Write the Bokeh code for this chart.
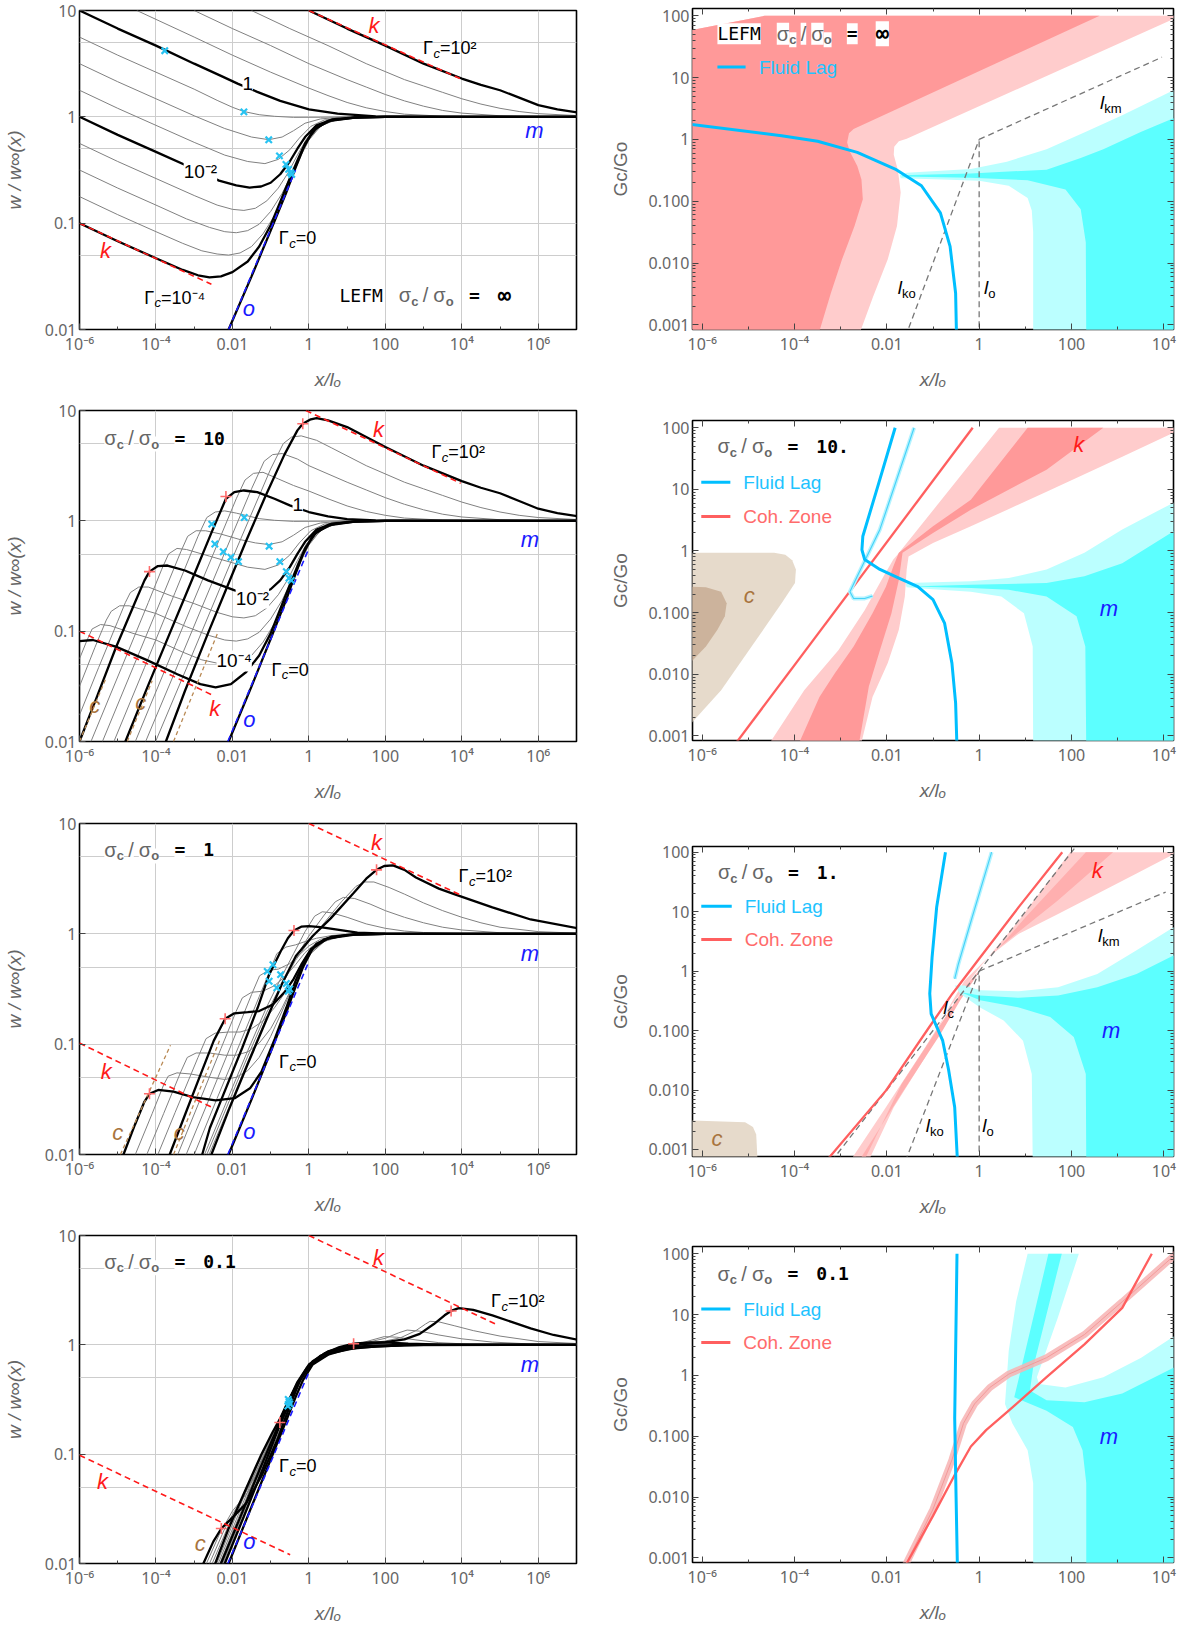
import math
from bokeh.plotting import figure
from bokeh.models import FixedTicker, CustomJSTickFormatter, Label, LogAxis
from bokeh.layouts import column, row
from bokeh.embed import file_html
from bokeh.resources import INLINE

# ======================= DATA (log10 x/lo , log10 value) =======================
# ---- Panel A : LEFM  sigma_c/sigma_o = inf ----
A_G0 = [(-2.1,-2.0),(-1.5,-1.5),(-1.0,-1.07),(-0.6,-0.72),(-0.35,-0.48),(-0.15,-0.3),(0.1,-0.13),(0.5,-0.04),(1.2,-0.008),(2.0,0.0),(7.0,0.0)]
A_Gm40 = [(-6,-1),(-5,-1.17),(-4,-1.33),(-3.3,-1.44),(-2.9,-1.49),(-2.6,-1.51),(-2.3,-1.50),(-2.0,-1.46),(-1.6,-1.36),(-1.3,-1.22),(-1.0,-1.02),(-0.75,-0.8),(-0.5,-0.58),(-0.3,-0.41),(-0.1,-0.25),(0.2,-0.1),(0.6,-0.03),(1.2,-0.007),(2,0),(7,0)]
A_Gm35 = [(-6,-0.75),(-5,-0.92),(-4,-1.08),(-3.3,-1.19),(-2.8,-1.26),(-2.4,-1.29),(-2.1,-1.30),(-1.8,-1.28),(-1.5,-1.22),(-1.2,-1.10),(-0.9,-0.93),(-0.65,-0.74),(-0.4,-0.53),(-0.2,-0.36),(0.0,-0.22),(0.3,-0.09),(0.7,-0.025),(1.3,-0.005),(2,0),(7,0)]
A_Gm30 = [(-6,-0.5),(-5,-0.67),(-4,-0.83),(-3.2,-0.96),(-2.6,-1.04),(-2.2,-1.08),(-1.9,-1.09),(-1.6,-1.07),(-1.3,-1.01),(-1.0,-0.89),(-0.7,-0.72),(-0.45,-0.54),(-0.2,-0.34),(0.05,-0.18),(0.4,-0.06),(0.9,-0.015),(1.5,-0.003),(2,0),(7,0)]
A_Gm25 = [(-6,-0.25),(-5,-0.42),(-4,-0.58),(-3,-0.74),(-2.4,-0.83),(-2.0,-0.87),(-1.7,-0.88),(-1.4,-0.86),(-1.1,-0.79),(-0.8,-0.67),(-0.55,-0.53),(-0.3,-0.36),(-0.05,-0.2),(0.3,-0.08),(0.8,-0.02),(1.5,-0.004),(2,0),(7,0)]
A_Gm20 = [(-6,0),(-5,-0.17),(-4,-0.33),(-3,-0.49),(-2.35,-0.60),(-1.9,-0.645),(-1.55,-0.665),(-1.25,-0.655),(-1.0,-0.62),(-0.75,-0.54),(-0.5,-0.42),(-0.3,-0.30),(-0.1,-0.19),(0.2,-0.08),(0.6,-0.025),(1.2,-0.005),(2,0),(7,0)]
A_Gm15 = [(-6,0.25),(-5,0.08),(-4,-0.08),(-3,-0.24),(-2.2,-0.36),(-1.6,-0.42),(-1.15,-0.44),(-0.8,-0.40),(-0.5,-0.31),(-0.25,-0.2),(0.05,-0.09),(0.4,-0.03),(1.0,-0.005),(2,0),(7,0)]
A_Gm10 = [(-6,0.5),(-5,0.33),(-4,0.17),(-3,0.01),(-2.2,-0.11),(-1.5,-0.19),(-1.05,-0.215),(-0.7,-0.19),(-0.4,-0.13),(-0.1,-0.06),(0.3,-0.02),(0.8,-0.004),(2,0),(7,0)]
A_Gm05 = [(-6,0.75),(-5,0.58),(-4,0.42),(-3,0.26),(-2.4,0.155),(-2.0,0.09),(-1.7,0.05),(-1.3,0.02),(-0.9,0.005),(-0.4,-0.005),(0.3,-0.004),(1,0),(7,0)]
A_Gp00 = [(-6,1),(-5,0.83),(-4,0.67),(-3,0.5),(-2.3,0.385),(-1.85,0.31),(-1.35,0.235),(-0.75,0.15),(0,0.07),(0.75,0.03),(1.75,0.005),(3,0),(7,0)]
A_Gp05 = [(-4.5,1.0),(-3,0.75),(-2,0.58),(-1,0.42),(0,0.27),(0.5,0.2),(1,0.135),(1.5,0.085),(2,0.05),(2.5,0.025),(3.5,0.006),(5,0),(7,0)]
A_Gp10 = [(-3,1.0),(-2,0.83),(-1,0.67),(0,0.5),(1,0.35),(1.5,0.28),(2,0.21),(2.5,0.15),(3,0.1),(3.5,0.06),(4,0.035),(5,0.01),(6,0.002),(7,0)]
A_Gp15 = [(-1.5,1.0),(-0.5,0.83),(0.5,0.67),(1.5,0.5),(2.5,0.35),(3,0.29),(3.5,0.23),(4,0.17),(4.5,0.12),(5,0.08),(5.5,0.05),(6,0.03),(7,0.012)]
A_Gp20 = [(0,1.0),(1,0.83),(2,0.67),(3,0.5),(4,0.36),(4.5,0.3),(5,0.25),(5.5,0.18),(6,0.11),(6.5,0.07),(7.05,0.04)]
A_LAG_X = [(-3.77,0.622),(-1.70,0.047),(-1.05,-0.216),(-0.77,-0.367),(-0.60,-0.448),(-0.53,-0.494),(-0.48,-0.524),(-0.45,-0.542)]
A_K_UP = [(0,1),(3.95,0.36)]
A_K_LO = [(-6,-1),(-2.55,-1.575)]
A_O = [(-2.1,-2),(-0.35,-0.5)]
A_M = [(1.45,0),(4.95,0)]

# ---- Panel B : sigma_c/sigma_o = 10 ----
B_G0 = A_G0
B_Gm40 = [(-6.0,-1.09),(-5.65,-1.08),(-5.05,-1.14),(-4.25,-1.26),(-3.44,-1.39),(-2.84,-1.48),(-2.44,-1.51),(-2.04,-1.48),(-1.64,-1.37),(-1.3,-1.22),(-1.0,-1.02),(-0.75,-0.8),(-0.5,-0.58),(-0.3,-0.41),(-0.1,-0.25),(0.2,-0.1),(0.6,-0.03),(1.2,-0.007),(2,0),(7,0)]
B_Gm35 = [(-6.0,-1.25),(-5.8,-1.08),(-5.67,-0.98),(-5.45,-0.94),(-5.2,-0.95),(-4.6,-1.02),(-4.0,-1.08),(-3.3,-1.19),(-2.8,-1.26),(-2.4,-1.29),(-2.1,-1.30),(-1.8,-1.28),(-1.5,-1.22),(-1.2,-1.10),(-0.9,-0.93),(-0.65,-0.74),(-0.4,-0.53),(-0.2,-0.36),(0.0,-0.22),(0.3,-0.09),(0.7,-0.025),(1.3,-0.005),(2,0),(7,0)]
B_Gm30 = [(-6.0,-1.5),(-5.6,-1.15),(-5.3,-0.9),(-5.17,-0.82),(-4.95,-0.77),(-4.7,-0.77),(-4.0,-0.84),(-3.2,-0.96),(-2.6,-1.04),(-2.2,-1.08),(-1.9,-1.09),(-1.6,-1.07),(-1.3,-1.01),(-1.0,-0.89),(-0.7,-0.72),(-0.45,-0.54),(-0.2,-0.34),(0.05,-0.18),(0.4,-0.06),(0.9,-0.015),(1.5,-0.003),(2,0),(7,0)]
B_Gm25 = [(-6.0,-1.76),(-5.5,-1.33),(-5.0,-0.91),(-4.8,-0.74),(-4.67,-0.65),(-4.45,-0.6),(-4.2,-0.6),(-3.6,-0.68),(-3.0,-0.75),(-2.4,-0.83),(-2.0,-0.87),(-1.7,-0.88),(-1.4,-0.86),(-1.1,-0.79),(-0.8,-0.67),(-0.55,-0.53),(-0.3,-0.36),(-0.05,-0.2),(0.3,-0.08),(0.8,-0.02),(1.5,-0.004),(2,0),(7,0)]
B_Gm20 = [(-6.0,-2.0),(-5.55,-1.6),(-5.05,-1.15),(-4.55,-0.74),(-4.3,-0.54),(-4.17,-0.46),(-3.95,-0.41),(-3.7,-0.405),(-3.24,-0.45),(-2.64,-0.54),(-1.94,-0.63),(-1.55,-0.66),(-1.25,-0.655),(-1.0,-0.62),(-0.75,-0.54),(-0.5,-0.42),(-0.3,-0.30),(-0.1,-0.19),(0.2,-0.08),(0.6,-0.025),(1.2,-0.005),(2,0),(7,0)]
B_Gm15 = [(-5.70,-2),(-4.9,-1.33),(-4.2,-0.74),(-3.85,-0.44),(-3.67,-0.3),(-3.45,-0.25),(-3.2,-0.26),(-2.6,-0.32),(-2.0,-0.38),(-1.6,-0.42),(-1.15,-0.44),(-0.8,-0.40),(-0.5,-0.31),(-0.25,-0.2),(0.05,-0.09),(0.4,-0.03),(1.0,-0.005),(2,0),(7,0)]
B_Gm10 = [(-5.40,-2),(-4.6,-1.33),(-3.8,-0.66),(-3.35,-0.28),(-3.17,-0.14),(-2.95,-0.09),(-2.7,-0.09),(-2.3,-0.12),(-1.8,-0.17),(-1.4,-0.2),(-1.05,-0.215),(-0.7,-0.19),(-0.4,-0.13),(-0.1,-0.06),(0.3,-0.02),(0.8,-0.004),(2,0),(7,0)]
B_Gm05 = [(-5.10,-2),(-4.3,-1.33),(-3.5,-0.65),(-2.9,-0.14),(-2.67,0.03),(-2.45,0.08),(-2.2,0.09),(-1.9,0.07),(-1.6,0.045),(-1.3,0.02),(-0.9,0.005),(-0.4,-0.005),(0.3,-0.004),(1,0),(7,0)]
B_Gp00 = [(-4.80,-2.0),(-4.25,-1.53),(-3.64,-1.02),(-3.04,-0.52),(-2.54,-0.1),(-2.17,0.2),(-1.95,0.26),(-1.7,0.275),(-1.35,0.26),(-0.9,0.2),(-0.5,0.14),(0,0.08),(0.5,0.04),(1,0.015),(1.75,0.003),(3,0),(7,0)]
B_Gp05 = [(-4.54,-2),(-3.5,-1.13),(-2.5,-0.3),(-1.9,0.2),(-1.67,0.37),(-1.45,0.43),(-1.2,0.44),(-0.8,0.38),(-0.4,0.32),(0,0.27),(0.5,0.2),(1,0.135),(1.5,0.085),(2,0.05),(2.5,0.025),(3.5,0.006),(5,0),(7,0)]
B_Gp10 = [(-4.27,-2),(-3.3,-1.2),(-2.3,-0.37),(-1.5,0.29),(-1.17,0.54),(-0.95,0.6),(-0.7,0.61),(-0.3,0.56),(0,0.5),(1,0.35),(1.5,0.28),(2,0.21),(2.5,0.15),(3,0.1),(3.5,0.06),(4,0.035),(5,0.01),(6,0.002),(7,0)]
B_Gp15 = [(-4.01,-2),(-3.0,-1.17),(-2.0,-0.34),(-1.0,0.47),(-0.67,0.7),(-0.45,0.76),(-0.2,0.77),(0.2,0.73),(0.6,0.66),(1.5,0.5),(2.5,0.35),(3,0.29),(3.5,0.23),(4,0.17),(4.5,0.12),(5,0.08),(5.5,0.05),(6,0.03),(7,0.012)]
B_Gp20 = [(-3.74,-2.0),(-3.24,-1.54),(-2.64,-1.02),(-2.14,-0.6),(-1.64,-0.18),(-1.14,0.22),(-0.64,0.6),(-0.3,0.82),(-0.16,0.88),(0.05,0.92),(0.2,0.93),(0.5,0.91),(1,0.85),(2,0.67),(3,0.5),(4,0.36),(4.5,0.3),(5,0.25),(5.5,0.18),(6,0.11),(6.5,0.07),(7.05,0.04)]
B_LAG_X = [(-2.54,-0.03),(-2.46,-0.21),(-2.24,-0.28),(-2.04,-0.33),(-1.84,-0.37),(-1.69,0.03),(-1.04,-0.23),(-0.76,-0.37),(-0.59,-0.46),(-0.52,-0.52),(-0.46,-0.54)]
B_COH_P = [(-4.17,-0.46),(-2.17,0.22),(-0.16,0.88)]
B_K_UP = [(-0.08,1.0),(3.97,0.34)]
B_K_LO = [(-6,-1.0),(-2.49,-1.585)]
B_O = [(-2.12,-2),(0.0,-0.25)]
B_M = [(1.5,0),(7,0)]
B_C1 = [(-6.0,-2.0),(-5.3,-1.42)]
B_C2 = [(-4.75,-2.0),(-4.1,-1.45)]
B_C3 = [(-3.54,-2.0),(-2.39,-1.02)]

# ---- Panel C : sigma_c/sigma_o = 1 ----
C_G0 = A_G0
C_Gm40 = [(-4.85,-2.0),(-4.55,-1.73),(-4.3,-1.52),(-4.17,-1.45),(-3.94,-1.415),(-3.54,-1.43),(-3.04,-1.48),(-2.44,-1.51),(-1.94,-1.49),(-1.54,-1.40),(-1.24,-1.25),(-0.89,-0.95),(-0.59,-0.67),(-0.34,-0.42),(-0.1,-0.23),(0.2,-0.09),(0.6,-0.025),(1.2,-0.005),(2,0),(7,0)]
C_Gm35 = [(-4.54,-2),(-4.1,-1.63),(-3.8,-1.37),(-3.68,-1.29),(-3.45,-1.26),(-3.1,-1.27),(-2.6,-1.3),(-2.2,-1.32),(-1.9,-1.3),(-1.6,-1.24),(-1.3,-1.12),(-1.0,-0.93),(-0.7,-0.7),(-0.45,-0.5),(-0.2,-0.32),(0.05,-0.18),(0.4,-0.07),(0.9,-0.015),(1.5,0),(7,0)]
C_Gm30 = [(-4.24,-2),(-3.8,-1.63),(-3.35,-1.25),(-3.18,-1.12),(-2.95,-1.08),(-2.6,-1.08),(-2.2,-1.1),(-1.9,-1.1),(-1.6,-1.07),(-1.3,-0.99),(-1.0,-0.86),(-0.7,-0.67),(-0.45,-0.49),(-0.2,-0.31),(0.05,-0.17),(0.4,-0.06),(0.9,-0.015),(1.5,0),(7,0)]
C_Gm25 = [(-3.95,-2),(-3.5,-1.62),(-2.9,-1.12),(-2.69,-0.95),(-2.45,-0.9),(-2.1,-0.89),(-1.8,-0.89),(-1.5,-0.86),(-1.2,-0.79),(-0.9,-0.67),(-0.6,-0.52),(-0.35,-0.37),(-0.1,-0.22),(0.2,-0.1),(0.6,-0.03),(1.2,-0.005),(2,0),(7,0)]
C_Gm20 = [(-3.64,-2.0),(-3.24,-1.64),(-2.84,-1.28),(-2.49,-0.97),(-2.19,-0.77),(-1.95,-0.72),(-1.6,-0.71),(-1.3,-0.70),(-0.94,-0.64),(-0.64,-0.53),(-0.4,-0.41),(-0.2,-0.28),(0.05,-0.14),(0.4,-0.05),(1,-0.01),(2,0),(7,0)]
C_Gm15 = [(-3.43,-2),(-2.9,-1.55),(-2.3,-1.04),(-1.9,-0.7),(-1.74,-0.58),(-1.5,-0.53),(-1.2,-0.52),(-0.9,-0.47),(-0.6,-0.38),(-0.35,-0.28),(-0.1,-0.17),(0.2,-0.08),(0.6,-0.025),(1.2,-0.005),(2,0),(7,0)]
C_Gm10 = [(-3.21,-2),(-2.6,-1.49),(-2.0,-0.98),(-1.5,-0.55),(-1.29,-0.38),(-1.05,-0.33),(-0.8,-0.32),(-0.5,-0.27),(-0.25,-0.19),(0.0,-0.11),(0.3,-0.05),(0.7,-0.015),(1.3,0),(7,0)]
C_Gm05 = [(-3.0,-2),(-2.4,-1.49),(-1.8,-0.99),(-1.3,-0.57),(-0.98,-0.3),(-0.84,-0.18),(-0.6,-0.12),(-0.35,-0.1),(-0.1,-0.07),(0.2,-0.04),(0.6,-0.015),(1.2,0),(7,0)]
C_Gp00 = [(-2.79,-2.0),(-2.59,-1.76),(-2.24,-1.46),(-1.74,-1.03),(-1.34,-0.67),(-1.04,-0.37),(-0.74,-0.16),(-0.55,-0.04),(-0.39,0.03),(-0.2,0.065),(0.0,0.07),(0.3,0.06),(0.7,0.04),(1.27,0.01),(2,0.002),(3,0),(7,0)]
C_Gp05 = [(-2.73,-2),(-2.2,-1.56),(-1.6,-1.06),(-1.1,-0.66),(-0.7,-0.38),(-0.4,-0.18),(-0.1,0.02),(0.15,0.16),(0.35,0.2),(0.6,0.19),(1.0,0.15),(1.5,0.09),(2,0.05),(2.5,0.025),(3,0.012),(4,0.003),(7,0)]
C_Gp10 = [(-2.67,-2),(-2.15,-1.57),(-1.6,-1.11),(-1.1,-0.71),(-0.7,-0.45),(-0.35,-0.22),(0.0,-0.02),(0.4,0.17),(0.69,0.29),(0.9,0.33),(1.2,0.32),(1.6,0.27),(2,0.21),(2.5,0.15),(3,0.1),(3.5,0.06),(4,0.035),(5,0.01),(7,0)]
C_Gp15 = [(-2.61,-2),(-2.1,-1.58),(-1.6,-1.16),(-1.1,-0.75),(-0.7,-0.46),(-0.35,-0.24),(0.0,-0.07),(0.4,0.1),(0.85,0.29),(1.23,0.43),(1.45,0.47),(1.7,0.47),(2.1,0.42),(2.5,0.36),(3,0.28),(3.5,0.21),(4,0.15),(4.5,0.1),(5,0.06),(6,0.02),(7,0.006)]
C_Gp20 = [(-2.55,-2.0),(-2.1,-1.6),(-1.6,-1.18),(-1.1,-0.77),(-0.7,-0.45),(-0.34,-0.2),(0.1,-0.02),(0.57,0.14),(1.17,0.37),(1.5,0.5),(1.77,0.58),(1.97,0.615),(2.2,0.62),(2.5,0.58),(2.8,0.51),(3.4,0.41),(3.8,0.36),(4.8,0.24),(5.8,0.13),(7.05,0.05)]
C_LAG_X = [(-1.09,-0.34),(-0.94,-0.28),(-1.04,-0.43),(-0.84,-0.49),(-0.74,-0.37),(-0.59,-0.45),(-0.54,-0.52),(-0.5,-0.5)]
C_COH_P = [(-4.17,-1.45),(-2.19,-0.77),(-0.39,0.03),(1.77,0.58)]
C_K_UP = [(0,1),(3.98,0.35)]
C_K_LO = [(-6,-0.99),(-2.49,-1.58)]
C_O = [(-2.12,-2),(0.0,-0.25)]
C_M = [(1.5,0),(7,0)]
C_C1 = [(-4.93,-2),(-3.62,-1.01)]
C_C2 = [(-3.54,-2),(-2.34,-0.97)]

# ---- Panel D : sigma_c/sigma_o = 0.1 ----
D_G0 = [(-2.1,-2.0),(-1.5,-1.48),(-1.0,-1.05),(-0.6,-0.70),(-0.35,-0.48),(-0.15,-0.32),(0.1,-0.18),(0.5,-0.09),(1,-0.04),(1.77,-0.015),(3,0),(7,0)]
D_Gm40 = [(-2.76,-2.0),(-2.5,-1.8),(-2.29,-1.68),(-2.0,-1.58),(-1.64,-1.45),(-1.24,-1.2),(-0.84,-0.88),(-0.54,-0.6),(-0.24,-0.33),(0.07,-0.17),(0.57,-0.075),(1.27,-0.025),(2.5,-0.003),(7,0)]
D_Gm35 = [(-2.68,-2.0),(-2.35,-1.74),(-2.0,-1.52),(-1.6,-1.35),(-1.2,-1.12),(-0.84,-0.85),(-0.54,-0.58),(-0.24,-0.33),(0.07,-0.17),(0.57,-0.075),(1.27,-0.025),(2.5,-0.003),(7,0)]
D_Gm30 = [(-2.6,-2.0),(-2.2,-1.68),(-1.8,-1.43),(-1.4,-1.2),(-1.05,-0.97),(-0.75,-0.74),(-0.45,-0.5),(-0.2,-0.32),(0.1,-0.17),(0.57,-0.07),(1.27,-0.02),(2.5,0),(7,0)]
D_Gm25 = [(-2.53,-2.0),(-2.1,-1.65),(-1.7,-1.38),(-1.3,-1.1),(-0.95,-0.85),(-0.65,-0.63),(-0.4,-0.44),(-0.15,-0.28),(0.15,-0.15),(0.6,-0.065),(1.3,-0.02),(2.5,0),(7,0)]
D_Gm20 = [(-2.45,-2.0),(-2.1,-1.68),(-1.7,-1.36),(-1.24,-1.0),(-0.95,-0.8),(-0.76,-0.68),(-0.55,-0.52),(-0.3,-0.35),(-0.05,-0.21),(0.3,-0.1),(0.8,-0.04),(1.5,-0.01),(2.5,0),(7,0)]
D_Gm15 = [(-2.41,-2.0),(-1.95,-1.6),(-1.5,-1.22),(-1.1,-0.92),(-0.8,-0.7),(-0.5,-0.48),(-0.25,-0.32),(0.05,-0.18),(0.4,-0.09),(0.9,-0.03),(1.6,-0.008),(2.5,0),(7,0)]
D_Gm10 = [(-2.37,-2.0),(-1.9,-1.6),(-1.45,-1.21),(-1.05,-0.9),(-0.75,-0.67),(-0.45,-0.45),(-0.2,-0.3),(0.1,-0.16),(0.5,-0.07),(1.0,-0.02),(1.6,0.0),(2.2,0.004),(3,0),(7,0)]
D_Gm05 = [(-2.33,-2.0),(-1.85,-1.59),(-1.4,-1.2),(-1.0,-0.87),(-0.7,-0.64),(-0.4,-0.42),(-0.15,-0.27),(0.15,-0.14),(0.55,-0.06),(1.0,-0.01),(1.5,0.008),(2.0,0.01),(2.6,0.004),(3.5,0),(7,0)]
D_Gp00 = [(-2.3,-2.0),(-1.8,-1.58),(-1.3,-1.15),(-0.9,-0.82),(-0.6,-0.57),(-0.3,-0.34),(0.0,-0.18),(0.4,-0.08),(0.8,-0.02),(1.17,0.01),(1.6,0.022),(2.1,0.02),(2.6,0.01),(3.5,0.002),(7,0)]
D_Gp05 = [(-2.27,-2.0),(-1.8,-1.59),(-1.3,-1.15),(-0.9,-0.83),(-0.6,-0.59),(-0.3,-0.37),(0.0,-0.21),(0.4,-0.09),(0.9,-0.02),(1.4,0.02),(1.97,0.075),(2.3,0.07),(2.8,0.045),(3.4,0.02),(4.2,0.006),(5.5,0),(7,0)]
D_Gp10 = [(-2.25,-2.0),(-1.75,-1.57),(-1.25,-1.13),(-0.85,-0.8),(-0.55,-0.56),(-0.25,-0.34),(0.05,-0.19),(0.45,-0.08),(0.95,-0.02),(1.5,0.02),(2.0,0.06),(2.35,0.11),(2.57,0.135),(2.9,0.125),(3.4,0.09),(4.0,0.055),(4.8,0.025),(5.8,0.008),(7,0.002)]
D_Gp15 = [(-2.22,-2.0),(-1.72,-1.57),(-1.22,-1.13),(-0.82,-0.79),(-0.52,-0.55),(-0.22,-0.33),(0.08,-0.18),(0.48,-0.075),(1.0,-0.015),(1.5,0.015),(2.0,0.035),(2.4,0.065),(2.8,0.13),(3.05,0.19),(3.17,0.215),(3.4,0.21),(3.8,0.175),(4.3,0.13),(5,0.08),(6,0.03),(7,0.012)]
D_Gp20 = [(-2.2,-2.0),(-1.7,-1.57),(-1.2,-1.13),(-0.8,-0.77),(-0.5,-0.52),(-0.2,-0.3),(0.1,-0.15),(0.5,-0.06),(1.0,-0.015),(1.5,0.01),(2.0,0.025),(2.5,0.05),(2.9,0.1),(3.27,0.19),(3.55,0.27),(3.72,0.31),(3.92,0.335),(4.3,0.32),(4.8,0.27),(5.3,0.21),(5.8,0.15),(6.4,0.09),(7.05,0.045)]
D_LAG_X = [(-0.55,-0.56),(-0.52,-0.52),(-0.5,-0.54),(-0.54,-0.5)]
D_COH_P = [(-2.29,-1.68),(-0.76,-0.71),(1.17,0.01),(3.72,0.31)]
D_K_UP = [(0,1),(4.88,0.19)]
D_K_LO = [(-6,-1.01),(-0.49,-1.92)]
D_O = [(-2.12,-2),(0.0,-0.25)]
D_M = [(1.5,0),(7,0)]

# ======================= right panels: regions (log10 x/lo, log10 Gc/Go) =======================
RA_PINK_PALE = [(-6.3,-3.2),(-2.62,-3.2),(-2.30,-2.55),(-1.98,-1.94),(-1.78,-1.40),(-1.70,-0.86),(-1.76,-0.50),(-1.85,-0.25),(-1.84,-0.12),(-1.74,-0.03),(-1.57,0.01),(4.3,1.98),(4.3,2.0),(-4.65,2.0),(-6.3,1.76)]
RA_PINK_DARK = [(-6.3,-3.2),(-3.5,-3.2),(-3.21,-2.48),(-2.97,-1.94),(-2.70,-1.40),(-2.52,-0.97),(-2.55,-0.65),(-2.64,-0.43),(-2.80,-0.20),(-2.86,-0.05),(-2.82,0.10),(-2.72,0.17),(2.61,2.0),(-4.65,2.0),(-6.3,1.76)]
RA_CYAN_PALE = [(1.17,-3.2),(1.17,-1.5),(1.14,-1.15),(1.05,-0.95),(0.64,-0.75),(0.0,-0.67),(-0.8,-0.65),(-1.70,-0.63),(-1.72,-0.58),(-1.57,-0.54),(-0.18,-0.48),(0.6,-0.36),(1.46,-0.16),(2.3,0.12),(3.10,0.39),(4.3,0.83),(4.3,-3.2)]
RA_CYAN_BRIGHT = [(2.32,-3.2),(2.31,-1.67),(2.20,-1.13),(1.87,-0.81),(1.05,-0.66),(-0.18,-0.62),(-1.66,-0.60),(-1.68,-0.58),(-0.18,-0.55),(1.46,-0.49),(2.2,-0.3),(2.69,-0.16),(3.5,0.12),(4.3,0.37),(4.3,-3.2)]
RA_LAG = [(-6.3,0.25),(-4.28,0.06),(-3.5,-0.03),(-2.64,-0.21),(-1.82,-0.48),(-1.25,-0.75),(-0.84,-1.19),(-0.63,-1.73),(-0.51,-2.49),(-0.49,-3.2)]
RA_LKO = [(-1.6,-3.2),(0,0)]
RA_LO = [(0,-3.2),(0,0)]
RA_LKM = [(0,0),(3.96,1.33)]

RB_TAN = [(-6.3,-0.03),(-4.44,-0.03),(-4.2,-0.06),(-4.05,-0.15),(-3.97,-0.30),(-3.99,-0.52),(-4.28,-0.85),(-4.93,-1.55),(-5.59,-2.26),(-6.3,-2.85)]
RB_TAN_DARK = [(-6.3,-0.58),(-5.92,-0.59),(-5.59,-0.66),(-5.47,-0.85),(-5.51,-1.06),(-5.67,-1.28),(-5.92,-1.55),(-6.3,-1.85)]
RB_PINK_PALE = [(-4.61,-3.2),(-3.79,-2.26),(-3.05,-1.61),(-2.48,-0.96),(-2.07,-0.41),(-1.86,-0.14),(-1.78,-0.07),(0.43,2.0),(4.3,2.0),(4.3,1.95),(3.10,1.53),(1.46,0.96),(-0.18,0.40),(-1.0,0.13),(-1.53,-0.09),(-1.57,-0.30),(-1.61,-0.74),(-1.74,-1.28),(-1.98,-1.82),(-2.31,-2.37),(-2.58,-3.2)]
RB_PINK_DARK = [(-3.95,-3.2),(-3.46,-2.37),(-3.13,-1.99),(-2.72,-1.55),(-2.31,-1.01),(-2.02,-0.58),(-1.86,-0.25),(-1.74,-0.03),(-1.0,0.40),(-0.18,0.83),(1.05,2.0),(2.69,2.0),(1.46,1.32),(-0.18,0.67),(-1.0,0.29),(-1.66,-0.03),(-1.74,-0.47),(-1.90,-1.01),(-2.15,-1.61),(-2.39,-2.20),(-2.62,-3.2)]
RB_COH = [(-5.35,-3.2),(-0.14,2.0)]
RB_LAG = [(-1.82,2.0),(-2.18,1.09),(-2.52,0.24),(-2.54,0.02),(-2.48,-0.14),(-2.15,-0.30),(-1.74,-0.44),(-1.33,-0.58),(-1.0,-0.79),(-0.75,-1.17),(-0.59,-1.82),(-0.51,-2.47),(-0.48,-3.2)]
RB_LAG_THIN = [(-1.41,2.0),(-2.15,0.35),(-2.64,-0.41),(-2.80,-0.66),(-2.72,-0.77),(-2.48,-0.77),(-2.31,-0.73)]
RB_CYAN_PALE = [(1.17,-3.2),(1.16,-1.55),(0.97,-1.01),(0.48,-0.74),(-0.18,-0.66),(-1.0,-0.62),(-1.57,-0.59),(-1.59,-0.55),(-1.57,-0.52),(-0.18,-0.49),(0.64,-0.44),(1.46,-0.30),(2.28,-0.03),(3.10,0.35),(4.3,0.82),(4.3,-3.2)]
RB_CYAN_BRIGHT = [(2.32,-3.2),(2.30,-1.55),(2.11,-1.06),(1.46,-0.74),(0.64,-0.63),(-0.18,-0.60),(-1.49,-0.575),(-0.18,-0.55),(1.46,-0.52),(2.28,-0.41),(3.10,-0.20),(4.3,0.36),(4.3,-3.2)]

RC_TAN = [(-6.3,-2.51),(-5.07,-2.54),(-4.90,-2.62),(-4.83,-2.75),(-4.80,-3.2),(-6.3,-3.2)]
RC_PINK_PALE = [(-2.80,-3.2),(-2.02,-2.29),(-1.17,-1.28),(-0.58,-0.55),(0.02,0.07),(0.86,0.85),(1.97,2.0),(4.3,2.0),(3.41,1.64),(2.56,1.30),(1.71,0.96),(0.86,0.63),(0.19,0.23),(-0.32,-0.16),(-0.66,-0.61),(-1.17,-1.45),(-1.85,-2.29),(-2.4,-3.2)]
RC_PINK_DARK = [(-2.61,-3.2),(-1.68,-2.06),(-0.83,-1.05),(-0.41,-0.49),(0.1,0.1),(1.0,0.9),(2.31,2.0),(2.90,2.0),(1.71,1.19),(0.44,0.40),(-0.32,-0.27),(-0.83,-0.89),(-1.68,-1.90),(-2.5,-3.2)]
RC_COH = [(-3.32,-3.2),(-2.02,-2.01),(-1.08,-0.94),(-0.58,-0.38),(0.02,0.23),(0.86,1.08),(1.80,2.0)]
RC_LC = [(-3.2,-3.2),(2.2,2.2)]
RC_LKO = [(-1.6,-3.2),(0,0)]
RC_LO = [(0,-3.2),(0,0)]
RC_LKM = [(0,0),(4.04,1.33)]
RC_LAG = [(-0.73,2.0),(-0.92,1.08),(-1.02,0.23),(-1.07,-0.38),(-1.04,-0.72),(-0.79,-1.17),(-0.66,-1.67),(-0.53,-2.29),(-0.47,-3.2)]
RC_LAG_THIN = [(0.27,2.0),(-0.15,0.91),(-0.45,0.12),(-0.53,-0.13)]
RC_CYAN_PALE = [(1.16,-3.2),(1.14,-1.73),(0.95,-1.17),(0.53,-0.83),(0.02,-0.61),(-0.41,-0.38),(-0.53,-0.24),(-0.32,-0.24),(0.02,-0.32),(0.86,-0.34),(1.71,-0.27),(2.56,-0.05),(3.41,0.35),(4.3,0.78),(4.3,-3.2)]
RC_CYAN_BRIGHT = [(2.32,-3.2),(2.31,-1.73),(2.05,-1.11),(1.54,-0.77),(0.86,-0.61),(0.02,-0.49),(-0.41,-0.35),(0.02,-0.41),(0.86,-0.45),(1.71,-0.41),(2.56,-0.27),(3.41,-0.05),(4.3,0.3),(4.3,-3.2)]

RD_LAG = [(-0.48,2.0),(-0.53,-0.7),(-0.50,-2.0),(-0.47,-3.2)]
RD_COH = [(-1.65,-3.2),(-1.0,-2.31),(-0.51,-1.61),(-0.18,-1.17),(0.15,-0.90),(0.64,-0.58),(1.46,-0.03),(2.28,0.51),(3.10,1.11),(3.74,2.0)]
RD_BAND = [(-1.65,-3.2),(-1.0,-2.2),(-0.59,-1.39),(-0.34,-0.79),(-0.10,-0.47),(0.23,-0.20),(0.64,0.02),(1.46,0.29),(2.28,0.67),(3.10,1.21),(4.3,2.02)]
RD_CYAN_PALE = [(1.17,-3.2),(1.17,-1.77),(1.05,-1.23),(0.72,-0.79),(0.56,-0.47),(0.64,0.40),(0.80,1.21),(1.05,2.0),(2.16,2.0),(1.70,0.94),(1.25,-0.03),(1.30,-0.14),(1.87,-0.20),(2.69,-0.03),(3.51,0.29),(4.3,0.68),(4.3,-3.2)]
RD_CYAN_BRIGHT = [(2.32,-3.2),(2.32,-1.77),(2.24,-1.23),(2.03,-0.85),(1.46,-0.58),(0.76,-0.36),(0.97,0.3),(1.50,2.0),(1.79,2.0),(1.17,0.13),(1.10,-0.25),(1.46,-0.41),(2.28,-0.44),(3.10,-0.30),(4.3,0.16),(4.3,-3.2)]

X_TICKS_L = [-6, -4, -2, 0, 2, 4, 6]
X_TICK_LABELS_L = ["10⁻⁶", "10⁻⁴", "0.01", "1", "100", "10⁴", "10⁶"]
Y_TICKS_L = [-2, -1, 0, 1]
Y_TICK_LABELS_L = ["0.01", "0.1", "1", "10"]
X_TICKS_R = [-6, -4, -2, 0, 2, 4]
X_TICK_LABELS_R = ["10⁻⁶", "10⁻⁴", "0.01", "1", "100", "10⁴"]
Y_TICKS_R = [-3, -2, -1, 0, 1, 2]
Y_TICK_LABELS_R = ["0.001", "0.010", "0.100", "1", "10", "100"]
GRID_Y_L = [0.05, 0.1, 0.5, 1, 5]

# ======================= helpers =======================
SANS = "Liberation Sans"
TICKF = "Noto Sans"
MONO = "DejaVu Sans Mono"
GRAY = "#666666"
BLACK = "black"
RED = "#FF1A1A"
BLUE = "#1A1AFF"
BROWN = "#A8743E"
LAGC = "#00BFFF"
COHC = "#FF5F5F"

def xy(pts):
    return [10 ** a for a, b in pts], [10 ** b for a, b in pts]

CW = {" ": 0.278, "/": 0.278, ".": 0.278, "l": 0.222, "i": 0.222, "=": 0.584, "Γ": 0.58,
      "σ": 0.62, "∞": 0.75, "(": 0.333, ")": 0.333, "c": 0.5, "k": 0.5, "m": 0.833,
      "w": 0.722, "x": 0.5, "G": 0.778, "L": 0.556, "F": 0.611, "E": 0.667, "M": 0.833}
SUP = "⁰¹²³⁴⁵⁶⁷⁸⁹⁻"

def tw(t, size, font):
    if font == MONO:
        return len(t) * 0.602 * size
    return sum((0.40 if ch in SUP else CW.get(ch, 0.556)) for ch in t) * size

def piece_w(pc):
    if isinstance(pc, (int, float)):
        return pc
    t, s, c, st, f, dy = pc
    return tw(t, s, f)

def rich(p, lx, ly, pieces, bg=None, center=False):
    total = sum(piece_w(pc) for pc in pieces)
    off = -total / 2 if center else 0.0
    for pc in pieces:
        if isinstance(pc, (int, float)):
            off += pc
            continue
        t, s, c, st, f, dy = pc
        lab = Label(x=10 ** lx, y=10 ** ly, x_offset=off, y_offset=dy, text=t,
                    text_font=f, text_font_size=f"{s}px", text_color=c,
                    text_font_style=st, text_baseline="middle", text_align="left")
        if bg:
            lab.background_fill_color = bg
        p.add_layout(lab)
        off += tw(t, s, f)

def txt(p, lx, ly, t, size=18, color=BLACK, style="normal", font=SANS, bg=None):
    rich(p, lx, ly, [(t, size, color, style, font, 0)], bg=bg, center=True)

def gamma(p, lx, ly, rest, size=18, bg=None):
    rich(p, lx, ly, [("Γ", size, BLACK, "normal", SANS, 0),
                     ("c", 13, BLACK, "italic", SANS, -5),
                     ("=" + rest, size, BLACK, "normal", SANS, 0)], bg=bg, center=True)

def lsub(p, lx, ly, sub):
    rich(p, lx, ly, [("l", 19, BLACK, "italic", SANS, 0),
                     (sub, 13, BLACK, "normal", SANS, -6)], center=True)

def sigma_title(p, lx, ly, value, prefix=None, bg="white"):
    pcs = []
    if prefix:
        pcs += [(prefix, 18, BLACK, "normal", MONO, 0), 16]
    pcs += [("σ", 20, GRAY, "normal", SANS, 0), ("c", 13, GRAY, "bold", SANS, -6), 5,
            ("/", 20, GRAY, "normal", SANS, 0), 5,
            ("σ", 20, GRAY, "normal", SANS, 0), ("o", 13, GRAY, "bold", SANS, -6), 16,
            ("=", 18, BLACK, "bold", MONO, 0), 18,
            (value, 18 if value != "∞" else 22, BLACK, "bold", MONO, 0)]
    rich(p, lx, ly, pcs, bg=bg)

def fmt(ticks, labels):
    js = "{" + ",".join('"%d":"%s"' % (k, v) for k, v in zip(ticks, labels)) + "}"
    return CustomJSTickFormatter(code="const m = " + js +
        "; const e = Math.round(Math.log10(tick)); const s = m[String(e)]; return (s === undefined) ? '' : s;")

def style_axes(p):
    for ax in (p.xaxis[0], p.yaxis[0]):
        ax.axis_line_color = None
        ax.major_tick_in = 6
        ax.major_tick_out = 0
        ax.minor_tick_in = 3
        ax.minor_tick_out = 0
        ax.major_tick_line_color = "#444444"
        ax.minor_tick_line_color = "#444444"
        ax.major_label_text_font = TICKF
        ax.major_label_text_font_size = "16px"
        ax.major_label_text_color = GRAY
        ax.major_label_standoff = 3
        ax.axis_label_text_font = SANS
        ax.axis_label_text_font_size = "19px"
        ax.axis_label_text_color = GRAY
    p.xaxis[0].axis_label = "x/lₒ"
    p.xaxis[0].axis_label_text_font_style = "italic"
    p.xaxis[0].axis_label_standoff = 11
    p.outline_line_color = "black"
    p.outline_line_width = 1.6
    p.outline_line_alpha = 1.0

def mirror_axis(ticks, minor):
    return LogAxis(ticker=FixedTicker(ticks=ticks, minor_ticks=minor),
                   formatter=CustomJSTickFormatter(code="return '';"),
                   axis_line_color=None, major_tick_in=6, major_tick_out=0,
                   minor_tick_in=3, minor_tick_out=0,
                   major_tick_line_color="#444444", minor_tick_line_color="#444444",
                   major_label_text_font_size="0px", major_label_standoff=0)

LW, LFW = 78, 497
RW, RFW = 96, 481

def make_left(bt, fh, bb):
    p = figure(x_axis_type="log", y_axis_type="log", x_range=(1e-6, 1e7), y_range=(0.01, 10),
               frame_width=LFW, frame_height=fh, min_border_left=LW, min_border_right=20,
               min_border_top=bt, min_border_bottom=bb, output_backend="svg",
               toolbar_location=None, background_fill_color="white", border_fill_color="white")
    p.xaxis.ticker = FixedTicker(ticks=[10 ** e for e in X_TICKS_L],
                                 minor_ticks=[10 ** e for e in [-5, -3, -1, 1, 3, 5]])
    p.yaxis.ticker = FixedTicker(ticks=[10 ** e for e in Y_TICKS_L], minor_ticks=[])
    p.xaxis.formatter = fmt(X_TICKS_L, X_TICK_LABELS_L)
    p.yaxis.formatter = fmt(Y_TICKS_L, Y_TICK_LABELS_L)
    p.xgrid.ticker = FixedTicker(ticks=[10 ** e for e in [-4, -2, 0, 2, 4, 6]])
    p.ygrid.ticker = FixedTicker(ticks=GRID_Y_L)
    p.grid.grid_line_color = "#cdcdcd"
    p.grid.grid_line_width = 1
    style_axes(p)
    p.yaxis[0].axis_label = "w / w∞(x)"
    p.yaxis[0].axis_label_text_font_style = "italic"
    p.yaxis[0].axis_label_standoff = 17
    return p

def make_right(bt, fh, bb, yr):
    p = figure(x_axis_type="log", y_axis_type="log", x_range=(10 ** -6.21, 10 ** 4.21),
               y_range=(10 ** yr[0], 10 ** yr[1]),
               frame_width=RFW, frame_height=fh, min_border_left=RW, min_border_right=4,
               min_border_top=bt, min_border_bottom=bb, output_backend="svg",
               toolbar_location=None, background_fill_color="white", border_fill_color="white")
    xt = [10 ** e for e in X_TICKS_R]
    xm = [10 ** e for e in [-5, -3, -1, 1, 3]]
    yt = [10 ** e for e in Y_TICKS_R]
    ym = [m * 10 ** e for e in range(-3, 2) for m in range(2, 10)]
    p.xaxis.ticker = FixedTicker(ticks=xt, minor_ticks=xm)
    p.yaxis.ticker = FixedTicker(ticks=yt, minor_ticks=ym)
    p.xaxis.formatter = fmt(X_TICKS_R, X_TICK_LABELS_R)
    p.yaxis.formatter = fmt(Y_TICKS_R, Y_TICK_LABELS_R)
    p.grid.visible = False
    style_axes(p)
    p.yaxis[0].axis_label = "Gc/Go"
    p.yaxis[0].axis_label_text_font_style = "normal"
    p.yaxis[0].axis_label_standoff = 15
    p.add_layout(mirror_axis(xt, xm), "above")
    p.add_layout(mirror_axis(yt, ym), "right")
    return p

def draw_left(p, thin, thick, klines, oline, mline, clines, lagx, cohp):
    p.line(*xy(mline), line_color=BLUE, line_width=1.6, line_dash="6 4")
    for c in thin:
        p.line(*xy(c), line_color="#808080", line_width=1.0)
    for c in thick:
        p.line(*xy(c), line_color="black", line_width=2.3)
    for c in clines:
        p.line(*xy(c), line_color="#B98A55", line_width=1.3, line_dash="4 3")
    for c in klines:
        p.line(*xy(c), line_color=RED, line_width=1.6, line_dash="6 4")
    p.line(*xy(oline), line_color=BLUE, line_width=1.6, line_dash="6 4")
    if lagx:
        p.scatter(*xy(lagx), marker="x", size=9, line_color="#27C3F2", line_width=2.2)
    if cohp:
        p.scatter(*xy(cohp), marker="cross", size=11, line_color="#FF6B6B", line_width=1.6)

def patch(p, pts, color):
    p.patch(*xy(pts), fill_color=color, line_color=None)

def dashed(p, pts):
    p.line(*xy(pts), line_color="#777777", line_width=1.3, line_dash="6 4")

def legend(p, x0, x1, xt, yl, yc=None):
    p.line(*xy([(x0, yl), (x1, yl)]), line_color=LAGC, line_width=3)
    rich(p, xt, yl, [("Fluid Lag", 19, "#1EC3FF", "normal", SANS, 0)])
    if yc is not None:
        p.line(*xy([(x0, yc), (x1, yc)]), line_color=COHC, line_width=3)
        rich(p, xt, yc, [("Coh. Zone", 19, "#FF6B6B", "normal", SANS, 0)])

PINK_DARK = "#FF9999"
PINK_PALE = "#FFCCCC"
CYAN_PALE = "#BBFFFF"
CYAN_BRIGHT = "#5CFFFF"
TAN_PALE = "#E6DACB"
TAN_DARK = "#CCB39C"

YR_STD = (-3.076, 2.118)

# ======================= Left column =======================
A = make_left(10, 319, 71)
draw_left(A, [A_Gm35, A_Gm30, A_Gm25, A_Gm15, A_Gm10, A_Gm05, A_Gp05, A_Gp10, A_Gp15],
          [A_Gm40, A_Gm20, A_Gp00, A_Gp20, A_G0], [A_K_UP, A_K_LO], A_O, A_M, [], A_LAG_X, None)
txt(A, 1.7, 0.86, "k", 22, RED, "italic")
gamma(A, 3.7, 0.646, "10²")
txt(A, -1.6, 0.31, "1", 19, bg="white")
txt(A, 5.9, -0.125, "m", 22, BLUE, "italic")
txt(A, -2.8, -0.518, "10⁻²", 19, bg="white")
gamma(A, -0.3, -1.14, "0")
txt(A, -5.32, -1.26, "k", 22, RED, "italic")
gamma(A, -3.5, -1.70, "10⁻⁴")
txt(A, -1.57, -1.80, "o", 22, BLUE, "italic")
sigma_title(A, 0.8, -1.68, "∞", prefix="LEFM", bg=None)

B = make_left(10, 331, 72)
draw_left(B, [B_Gm35, B_Gm30, B_Gm25, B_Gm15, B_Gm10, B_Gm05, B_Gp05, B_Gp10, B_Gp15],
          [B_Gm40, B_Gm20, B_Gp00, B_Gp20, B_G0], [B_K_UP, B_K_LO], B_O, B_M,
          [B_C1, B_C2, B_C3], B_LAG_X, B_COH_P)
sigma_title(B, -5.35, 0.75, "10")
txt(B, 1.82, 0.83, "k", 22, RED, "italic")
txt(B, -2.46, -1.70, "k", 22, RED, "italic")
gamma(B, 3.92, 0.62, "10²")
txt(B, -0.29, 0.15, "1", 19, bg="white")
txt(B, -1.44, -0.70, "10⁻²", 19, bg="white")
txt(B, -1.94, -1.27, "10⁻⁴", 19, bg="white")
gamma(B, -0.49, -1.35, "0")
txt(B, 5.78, -0.17, "m", 22, BLUE, "italic")
txt(B, -5.6, -1.67, "c", 22, BROWN, "italic")
txt(B, -4.4, -1.65, "c", 22, BROWN, "italic")
txt(B, -1.56, -1.80, "o", 22, BLUE, "italic")

C = make_left(10, 331, 71)
draw_left(C, [C_Gm35, C_Gm30, C_Gm25, C_Gm15, C_Gm10, C_Gm05, C_Gp05, C_Gp10, C_Gp15],
          [C_Gm40, C_Gm20, C_Gp00, C_Gp20, C_G0], [C_K_UP, C_K_LO], C_O, C_M,
          [C_C1, C_C2], C_LAG_X, C_COH_P)
sigma_title(C, -5.35, 0.76, "1")
txt(C, 1.77, 0.83, "k", 22, RED, "italic")
txt(C, -5.30, -1.25, "k", 22, RED, "italic")
gamma(C, 4.63, 0.52, "10²")
txt(C, 5.78, -0.18, "m", 22, BLUE, "italic")
gamma(C, -0.29, -1.16, "0")
txt(C, -5.0, -1.80, "c", 22, BROWN, "italic")
txt(C, -3.39, -1.80, "c", 22, BROWN, "italic")
txt(C, -1.56, -1.79, "o", 22, BLUE, "italic")

D = make_left(10, 328, 66)
draw_left(D, [D_Gm35, D_Gm30, D_Gm25, D_Gm15, D_Gm10, D_Gm05, D_Gp05, D_Gp10, D_Gp15],
          [D_Gm40, D_Gm20, D_Gp00, D_Gp20, D_G0], [D_K_UP, D_K_LO], D_O, D_M,
          [], D_LAG_X, D_COH_P)
sigma_title(D, -5.35, 0.76, "0.1")
txt(D, 1.82, 0.80, "k", 22, RED, "italic")
txt(D, -5.40, -1.25, "k", 22, RED, "italic")
gamma(D, 5.48, 0.40, "10²")
txt(D, 5.78, -0.18, "m", 22, BLUE, "italic")
gamma(D, -0.29, -1.11, "0")
txt(D, -2.84, -1.82, "c", 22, BROWN, "italic")
txt(D, -1.56, -1.80, "o", 22, BLUE, "italic")

# ======================= Right column =======================
RA = make_right(8, 321, 81, YR_STD)
patch(RA, RA_PINK_PALE, PINK_PALE)
patch(RA, RA_PINK_DARK, PINK_DARK)
patch(RA, RA_CYAN_PALE, CYAN_PALE)
patch(RA, RA_CYAN_BRIGHT, CYAN_BRIGHT)
for ln in (RA_LKO, RA_LO, RA_LKM):
    dashed(RA, ln)
RA.line(*xy(RA_LAG), line_color=LAGC, line_width=3)
lsub(RA, -1.57, -2.40, "ko")
lsub(RA, 0.23, -2.40, "o")
lsub(RA, 2.85, 0.60, "km")
sigma_title(RA, -5.67, 1.71, "∞", prefix="LEFM", bg="white")
legend(RA, -5.67, -5.06, -4.77, 1.17)

RB = make_right(10, 320, 86, YR_STD)
patch(RB, RB_TAN, TAN_PALE)
patch(RB, RB_TAN_DARK, TAN_DARK)
patch(RB, RB_PINK_PALE, PINK_PALE)
patch(RB, RB_PINK_DARK, PINK_DARK)
patch(RB, RB_CYAN_PALE, CYAN_PALE)
patch(RB, RB_CYAN_BRIGHT, CYAN_BRIGHT)
RB.line(*xy(RB_COH), line_color=COHC, line_width=2.3)
RB.line(*xy(RB_LAG_THIN), line_color="#B5F3FF", line_width=4)
RB.line(*xy(RB_LAG_THIN), line_color="#45D2F8", line_width=1.1)
RB.line(*xy(RB_LAG), line_color=LAGC, line_width=3)
sigma_title(RB, -5.67, 1.70, "10.")
legend(RB, -6.02, -5.39, -5.11, 1.116, 0.56)
txt(RB, 2.16, 1.73, "k", 22, RED, "italic")
txt(RB, 2.81, -0.93, "m", 22, BLUE, "italic")
txt(RB, -4.98, -0.73, "c", 22, BROWN, "italic")

RC = make_right(20, 310, 78, (-3.118, 2.096))
patch(RC, RC_TAN, TAN_PALE)
patch(RC, RC_PINK_PALE, PINK_PALE)
patch(RC, RC_PINK_DARK, "#FFAFAF")
patch(RC, RC_CYAN_PALE, CYAN_PALE)
patch(RC, RC_CYAN_BRIGHT, CYAN_BRIGHT)
for ln in (RC_LC, RC_LKO, RC_LO, RC_LKM):
    dashed(RC, ln)
RC.line(*xy(RC_COH), line_color=COHC, line_width=2.3)
RC.line(*xy(RC_LAG_THIN), line_color="#B5F3FF", line_width=4)
RC.line(*xy(RC_LAG_THIN), line_color="#45D2F8", line_width=1.1)
RC.line(*xy(RC_LAG), line_color=LAGC, line_width=3)
sigma_title(RC, -5.66, 1.66, "1.")
legend(RC, -6.02, -5.36, -5.08, 1.09, 0.53)
txt(RC, 2.56, 1.69, "k", 22, RED, "italic")
txt(RC, 2.86, -1.0, "m", 22, BLUE, "italic")
txt(RC, -5.68, -2.82, "c", 22, BROWN, "italic")
lsub(RC, -0.66, -0.61, "c")
lsub(RC, -0.96, -2.60, "ko")
lsub(RC, 0.19, -2.60, "o")
lsub(RC, 2.81, 0.60, "km")

RD = make_right(12, 316, 67, YR_STD)
patch(RD, RD_CYAN_PALE, CYAN_PALE)
patch(RD, RD_CYAN_BRIGHT, CYAN_BRIGHT)
RD.line(*xy(RD_BAND), line_color="#F7B3B3", line_width=7, line_alpha=0.85)
RD.line(*xy(RD_BAND), line_color="#F39A9A", line_width=1)
RD.line(*xy(RD_COH), line_color=COHC, line_width=2.3)
RD.line(*xy(RD_LAG), line_color=LAGC, line_width=3)
sigma_title(RD, -5.67, 1.67, "0.1")
legend(RD, -6.02, -5.39, -5.11, 1.09, 0.54)
txt(RD, 2.81, -1.01, "m", 22, BLUE, "italic")

layout = row(column(A, B, C, D), column(RA, RB, RC, RD))
open("out.html", "w").write(file_html(layout, INLINE))
